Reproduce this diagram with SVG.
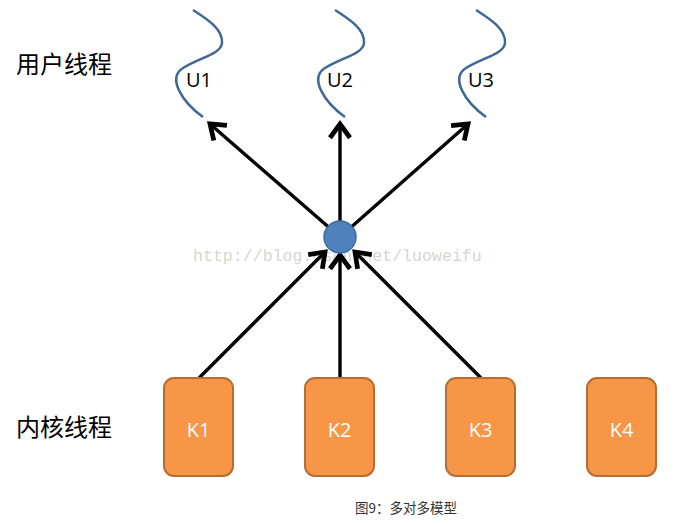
<svg xmlns="http://www.w3.org/2000/svg" width="696" height="524" viewBox="0 0 696 524">
<defs>
<marker id="ah" markerUnits="userSpaceOnUse" markerWidth="30" markerHeight="30" refX="0" refY="0" viewBox="-16 -12 20 24" orient="auto" overflow="visible">
<path d="M-11,-8 L0,0 L-11,8" fill="none" stroke="#000" stroke-width="3.8" stroke-linejoin="miter"/>
</marker>
<path id="wave" d="M0,0 C14,9 30,19 29,33 C28,44 8,47 -10,58 C-26,68 -11,92 10,107" fill="none" stroke="#3f6797" stroke-width="2.5"/>
</defs>
<style>
.lbl{font-family:"Noto Sans CJK SC","Noto Sans",sans-serif;font-size:24px;fill:#000}
.u{font-family:"Open Sans","Liberation Sans",sans-serif;font-size:20px;fill:#000}
.k rect{fill:#f79646;stroke:#b66d31;stroke-width:2}
.k text{font-family:"Open Sans","Liberation Sans",sans-serif;font-size:20px;fill:#fff;text-anchor:middle}
.conn line{stroke:#000;stroke-width:3.4;marker-end:url(#ah)}
</style>
<rect width="696" height="524" fill="#fff"/>
<text class="lbl" x="16" y="73">用户线程</text>
<text class="lbl" x="16" y="436">内核线程</text>
<g id="U1"><use href="#wave" x="193" y="10"/><text class="u" x="186" y="87">U1</text></g>
<g id="U2"><use href="#wave" x="335" y="10"/><text class="u" x="327" y="87">U2</text></g>
<g id="U3"><use href="#wave" x="476" y="10"/><text class="u" x="468" y="87">U3</text></g>
<text x="193" y="261" font-family="Liberation Mono,monospace" font-size="16.6" fill="#d6d6ce">http://blog.csdn.net/luoweifu</text>
<g class="conn" id="connectors">
<line x1="340" y1="237" x2="210" y2="124"/>
<line x1="340" y1="237" x2="340" y2="124"/>
<line x1="340" y1="237" x2="468" y2="124"/>
<line x1="199" y1="378" x2="325" y2="252"/>
<line x1="340" y1="378" x2="340" y2="255"/>
<line x1="481" y1="378" x2="355" y2="252"/>
</g>
<g id="hub"><circle cx="340" cy="237" r="16" fill="#4f81bd" stroke="#3c6aa0" stroke-width="1.5"/></g>
<g id="K1" class="k"><rect x="164" y="378" width="69" height="98" rx="10"/><text x="198.5" y="437">K1</text></g>
<g id="K2" class="k"><rect x="305" y="378" width="69" height="98" rx="10"/><text x="339.5" y="437">K2</text></g>
<g id="K3" class="k"><rect x="446" y="378" width="69" height="98" rx="10"/><text x="480.5" y="437">K3</text></g>
<g id="K4" class="k"><rect x="587" y="378" width="69" height="98" rx="10"/><text x="621.5" y="437">K4</text></g>
<text x="355" y="513" font-family="Noto Sans CJK SC,Noto Sans,sans-serif" font-size="13.5" fill="#333">图9：多对多模型</text>
</svg>
